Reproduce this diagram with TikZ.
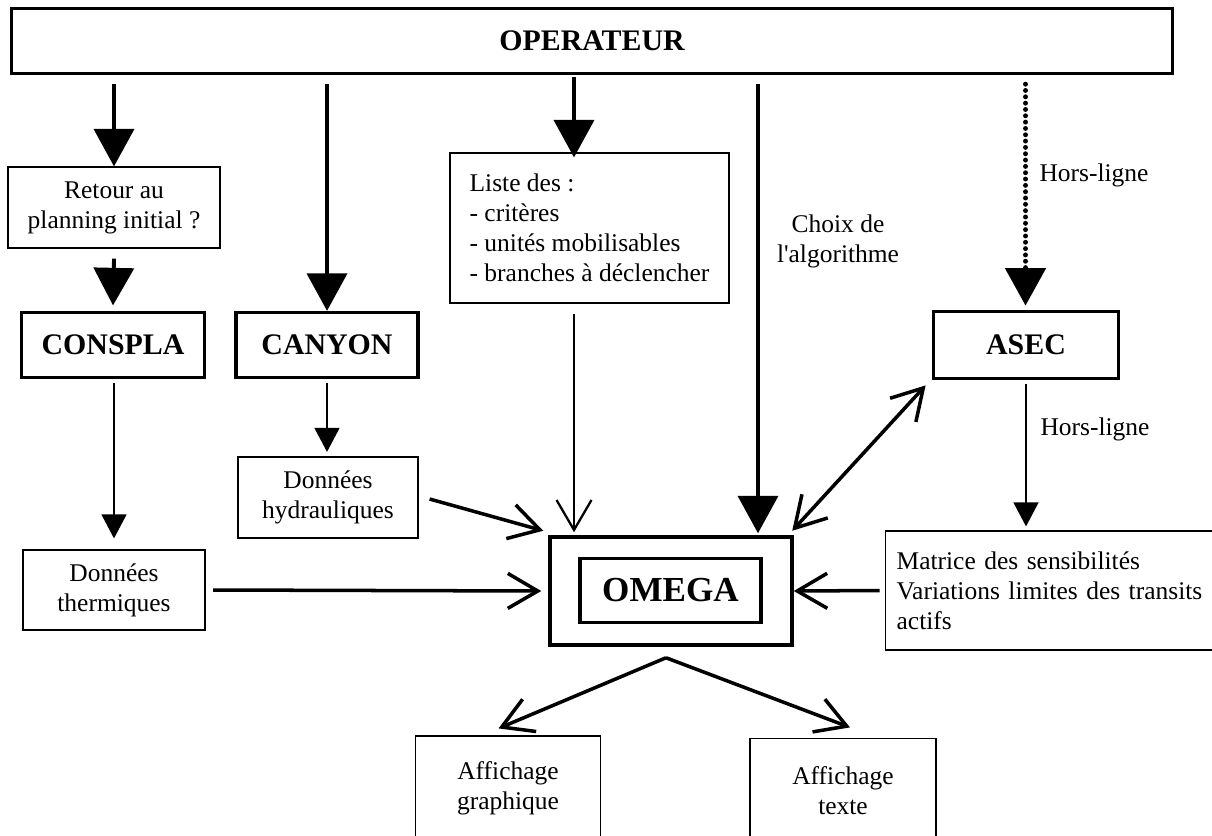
\documentclass[tikz,border=0pt]{standalone}
\usepackage{fontspec}
\setmainfont{Liberation Serif}
\usetikzlibrary{arrows.meta}

\tikzset{
	txt/.style={font=\fontsize{14.5}{17}\selectfont, align=center},
	databox/.style={txt, draw, line width=0.7pt, inner sep=0pt},
	progbox/.style={draw, line width=1.9pt, inner sep=0pt, font=\fontsize{17}{20}\bfseries\selectfont},
	bigarrow/.style={line width=2.2pt, -{Triangle[width=0.8cm,length=0.75cm]}},
	smallarrow/.style={line width=0.8pt, -{Triangle[width=0.5cm,length=0.48cm]}},
	openarrow/.style={line width=2pt, -{Straight Barb[length=0.6cm,width=0.7cm]}},
	openboth/.style={line width=2pt, {Straight Barb[length=0.6cm,width=0.7cm]}-{Straight Barb[length=0.6cm,width=0.7cm]}}
}

\begin{document}
\begin{tikzpicture}[x=0.02cm,y=-0.02cm]
		\useasboundingbox (0,0) rectangle (1212,835);
		\node[progbox, minimum width=23.22cm, minimum height=1.3cm] (op) at (592,41) {OPERATEUR};
		\node[databox, minimum width=4.24cm, minimum height=1.62cm] (retour) at (114,207.5) {Retour au\\planning initial ?};
		\node[progbox, minimum width=3.66cm, minimum height=1.3cm] (conspla) at (113,345) {CONSPLA};
		\node[progbox, minimum width=3.64cm, minimum height=1.3cm] (canyon) at (327,345) {CANYON};
		\node[databox, align=left, minimum width=5.58cm, minimum height=3cm] (liste) at (589.5,228) {Liste des :\\- critères\\- unités mobilisables\\- branches à déclencher};
		\node[txt] (choix) at (838,241) {Choix de\\l\textquotesingle algorithme};
		\node[txt] (hl1) at (1094,175) {Hors-ligne};
		\node[progbox, minimum width=3.69cm, minimum height=1.33cm] (asec) at (1026,345) {ASEC};
		\node[txt] (hl2) at (1095,429) {Hors-ligne};
		\node[databox, align=left, anchor=west, inner xsep=0.22cm, text width=6.46cm, minimum height=2.38cm] (matrice) at (885,590.5) {Matrice des sensibilités\\Variations limites des transits\\actifs};
		\node[databox, minimum width=3.64cm, minimum height=1.6cm] (thermiques) at (114,590) {Données\\thermiques};
		\node[databox, minimum width=3.6cm, minimum height=1.62cm] (hydro) at (328,497.5) {Données\\hydrauliques};
		\node[draw, line width=2pt, minimum width=4.84cm, minimum height=2.16cm] (omega) at (671,591) {};
		\node[progbox, font=\fontsize{20}{24}\bfseries\selectfont, minimum width=3.62cm, minimum height=1.28cm] (omegain) at (670.5,590.5) {OMEGA};
		\node[databox, minimum width=3.71cm, minimum height=2.08cm] (graph) at (508,788) {Affichage\\graphique};
		\node[databox, minimum width=3.72cm, minimum height=2.1cm] (texte) at (843,791) {Affichage\\texte};
		\coordinate (xliste) at (574,0);
		\coordinate (xchoix) at (758,0);
		\coordinate (xasec) at (1025.5,0);
		\coordinate (split) at ([xshift=-0.1cm,yshift=-0.22cm]omega.south);
		\draw[bigarrow] ([yshift=-0.18cm]op.south -| retour.north) -- (retour.north);
		\draw[bigarrow] ([yshift=-0.2cm]retour.south) -- ([yshift=0.11cm]conspla.north);
		\draw[bigarrow] ([yshift=-0.18cm]op.south -| canyon.north) -- (canyon.north);
		\draw[bigarrow] ([yshift=-0.04cm]op.south -| xliste) -- ([yshift=-0.1cm]xliste |- liste.north);
		\draw[bigarrow] ([yshift=-0.18cm]op.south -| xchoix) -- ([yshift=0.04cm]xchoix |- omega.north);
		\draw[line width=2.8pt, dash pattern=on 0pt off 3.6pt, line cap=round, -{Triangle[width=0.8cm,length=0.75cm]}] ([yshift=-0.18cm]op.south -| xasec) -- ([yshift=0.09cm]xasec |- asec.north);
		\draw[smallarrow] ([yshift=-0.08cm]conspla.south -| thermiques.north) -- ([yshift=0.22cm]thermiques.north);
		\draw[smallarrow] ([yshift=-0.08cm]canyon.south) -- ([yshift=0.09cm]hydro.north -| canyon.south);
		\draw[smallarrow] ([yshift=-0.08cm]asec.south) -- ([yshift=0.08cm]asec.south |- matrice.north);
		\draw[openarrow] ([xshift=0.15cm]thermiques.east) -- ([xshift=-0.14cm]omega.west);
		\draw[openarrow] ([shift={(0.22cm,-0.03cm)}]hydro.east) -- ([shift={(-0.1cm,0.09cm)}]omega.north west);
		\draw[openarrow, line width=1.3pt] ([yshift=-0.2cm]xliste |- liste.south) -- ([yshift=0.06cm]xliste |- omega.north);
		\draw[openarrow] ([xshift=-0.11cm]matrice.west) -- (omega.east);
		\draw[openboth] ([shift={(-0.03cm,0.09cm)}]omega.north east) -- ([shift={(-0.13cm,-0.11cm)}]asec.south west);
		\draw[openarrow] (split) -- ([shift={(-0.19cm,0.14cm)}]graph.north);
		\draw[openarrow] (split) -- ([shift={(0.14cm,0.21cm)}]texte.north);
	% synoptique OMEGA
	\end{tikzpicture}
\end{document}
